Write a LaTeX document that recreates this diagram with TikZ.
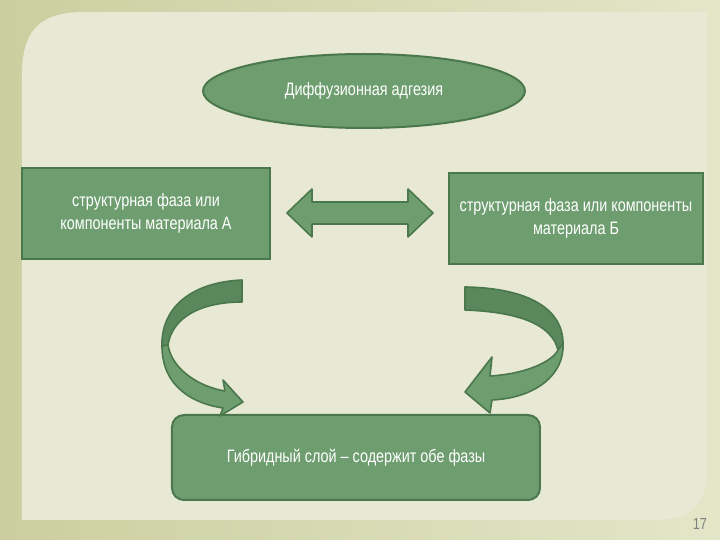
\documentclass[tikz,border=0pt]{standalone}
\usepackage{fontspec}
\setmainfont[FakeStretch=0.8]{Liberation Sans}
\usetikzlibrary{positioning,calc,shapes.geometric}
\definecolor{boxgreen}{HTML}{6E9E70}
\definecolor{edgegreen}{HTML}{4B774D}
\definecolor{backgreen}{HTML}{5A885C}
\definecolor{panelcream}{HTML}{E8E9D5}
\definecolor{outerolive}{HTML}{CBCF9F}
\definecolor{outerlight}{HTML}{E3E6C8}
\tikzset{
  gbox/.style={draw=edgegreen, fill=boxgreen, line width=1pt, text=white, align=center,
               font=\fontsize{9}{11.8}\selectfont, inner sep=0pt},
  ribfront/.style={fill=boxgreen, draw=edgegreen, line width=0.8pt, line join=round},
  ribback/.style={fill=backgreen, draw=edgegreen, line width=0.8pt, line join=round},
}

\begin{document}
\begin{tikzpicture}[x=0.5pt,y=-0.5pt]
  \useasboundingbox (0,0) rectangle (720,540);
  \shade[left color=outerolive,right color=outerlight] (0,0) rectangle (720,540);
  \fill[panelcream] (22,520) -- (22,75) .. controls (22,28) and (42,12) .. (85,12) -- (707,12)
    -- (707,470) .. controls (707,505) and (690,520) .. (657,520) -- cycle;

  \node[gbox, ellipse, minimum width=161pt, minimum height=37pt] (diffus) at (364,91) {Диффузионная адгезия};
  \node[gbox, minimum width=124pt, minimum height=45.5pt] (matA) at (146,213.5) {структурная фаза или\\компоненты материала А};
  \node[gbox, minimum width=127pt, minimum height=45.5pt] (matB) at (576,218.5) {структурная фаза или компоненты\\материала Б};
  \node[gbox, rounded corners=6pt, minimum width=184pt, minimum height=42.5pt] (hybrid) at (356,457.5) {Гибридный слой – содержит обе фазы};

  % double arrow between the two phases
  \coordinate (lt) at (287,213);
  \coordinate (rt) at (433,213);
  \draw[ribfront] (lt) -- ++(25,-24) -- ++(0,13) -- ($(rt)+(-25,-11)$) -- ++(0,-13) -- (rt)
    -- ++(-25,24) -- ++(0,-13) -- ($(lt)+(25,11)$) -- ++(0,13) -- cycle;

  % left curved arrow
  \draw[ribback] (242,280) .. controls (195,282) and (160,305) .. (162,348) -- (168,345)
    .. controls (172,318) and (200,302) .. (242,302) -- cycle;
  \draw[ribfront] (162,346) .. controls (162,388) and (195,404) .. (223,408) -- (220,416) -- (243,402)
    -- (223,380) -- (225,391) .. controls (200,387) and (172,370) .. (168,345) -- cycle;

  % right curved arrow
  \draw[ribback] (465,287) .. controls (530,288) and (564,310) .. (563,345) -- (558,350)
    .. controls (552,325) and (520,312) .. (465,310) -- cycle;
  \draw[ribfront] (563,343) .. controls (565,375) and (535,398) .. (492,400) -- (490,413) -- (465,392)
    -- (492,357) -- (490,376) .. controls (525,374) and (552,362) .. (558,350) -- cycle;

  \node[text=black!50, font=\fontsize{8}{9}\selectfont] (pnum) at (700,524) {17};
\end{tikzpicture}
\end{document}
